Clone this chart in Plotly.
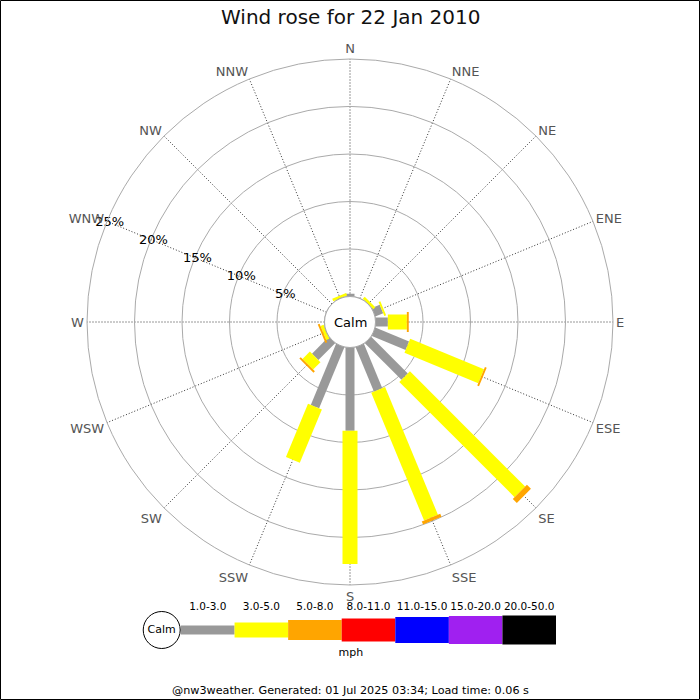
import numpy as np
import plotly.graph_objects as go

# ---------------- data ----------------
directions = ["N", "NNE", "NE", "ENE", "E", "ESE", "SE", "SSE",
              "S", "SSW", "SW", "WSW", "W", "WNW", "NW", "NNW"]
bearings = [i * 22.5 for i in range(16)]

speed_bins = ["1.0-3.0", "3.0-5.0", "5.0-8.0", "8.0-11.0",
              "11.0-15.0", "15.0-20.0", "20.0-50.0"]
bin_colors = ["#999999", "#ffff00", "#ffa500", "#ff0000",
              "#0000ff", "#a020f0", "#000000"]
bin_widths = [9, 15, 20, 23, 26, 28, 29]

# percentage of time per direction for each speed bin
pct_1_3 = [0.3, 0, 0, 0.9, 1.3, 3.85, 5.45, 5.06, 8.76, 6.96, 2.5, 0, 0, 0, 0, 0]
pct_3_5 = [0, 0, 0.3, 0.2, 2.0, 8.4, 17.15, 14.54, 14.04, 6.07, 1.1, 0.35, 0, 0, 0, 0.3]
pct_5_8 = [0, 0, 0, 0, 0.2, 0.2, 0.6, 0.35, 0, 0, 0.2, 0.2, 0, 0, 0, 0]
pct_8_11 = [0] * 16
pct_11_15 = [0] * 16
pct_15_20 = [0] * 16
pct_20_50 = [0] * 16
series = [pct_1_3, pct_3_5, pct_5_8, pct_8_11, pct_11_15, pct_15_20, pct_20_50]

radial_ticks = [5, 10, 15, 20, 25]
radial_ticktext = ["5%", "10%", "15%", "20%", "25%"]
radial_label_bearing = 292.5

title_text = "Wind rose for 22 Jan 2010"
footer_text = "@nw3weather. Generated: 01 Jul 2025 03:34; Load time: 0.06 s"
FONT = "DejaVu Sans"

# ---------------- figure ----------------
fig = go.Figure()

stack = np.vstack([np.array(s, dtype=float) for s in series])
tops = np.cumsum(stack, axis=0)
bottoms = tops - stack

for k in range(len(series)):
    rr, tt = [], []
    for d in range(16):
        if stack[k, d] > 0:
            rr += [bottoms[k, d], tops[k, d], None]
            tt += [bearings[d], bearings[d], None]
    if rr:
        fig.add_trace(go.Scatterpolar(
            r=rr, theta=tt, mode="lines", connectgaps=False,
            line=dict(color=bin_colors[k], width=bin_widths[k]),
            hoverinfo="skip", showlegend=False))

# calm circle outline (hole edge)
circ_theta = np.linspace(0, 360, 181)
fig.add_trace(go.Scatterpolar(
    r=np.zeros_like(circ_theta), theta=circ_theta, mode="lines",
    line=dict(color="#999999", width=1), hoverinfo="skip", showlegend=False))

# radial percentage labels, sitting on the WNW spoke
fig.add_trace(go.Scatterpolar(
    r=[t - 0.3 for t in radial_ticks], theta=[radial_label_bearing] * len(radial_ticks),
    mode="text", text=radial_ticktext, textposition="middle center",
    textfont=dict(family=FONT, size=13, color="#000"),
    hoverinfo="skip", showlegend=False, cliponaxis=False))

# ---------------- legend (own cartesian axes) ----------------
for k in range(len(speed_bins)):
    fig.add_trace(go.Scatter(
        x=[k, k + 1], y=[0, 0], mode="lines",
        line=dict(color=bin_colors[k], width=bin_widths[k]),
        xaxis="x", yaxis="y", hoverinfo="skip", showlegend=False))
fig.add_trace(go.Scatter(
    x=[k + 0.5 for k in range(len(speed_bins))], y=[0.77] * len(speed_bins),
    mode="text", text=speed_bins, textposition="middle center",
    textfont=dict(family=FONT, size=10.5, color="#000"),
    hoverinfo="skip", showlegend=False))
fig.add_trace(go.Scatter(
    x=[-0.36], y=[0], mode="markers+text", text=["Calm"],
    textposition="middle center",
    marker=dict(symbol="circle", size=37, color="white",
                line=dict(color="#000", width=1)),
    textfont=dict(family=FONT, size=11, color="#000"),
    hoverinfo="skip", showlegend=False))
fig.add_trace(go.Scatter(
    x=[3.17], y=[-0.77], mode="text", text=["mph"],
    textposition="middle center",
    textfont=dict(family=FONT, size=11, color="#000"),
    hoverinfo="skip", showlegend=False))

cx, cy, R = 350, 322, 263
fig.update_layout(
    width=700, height=700,
    margin=dict(l=0, r=0, t=0, b=0),
    paper_bgcolor="white", plot_bgcolor="white",
    font=dict(family=FONT),
    polar=dict(
        domain=dict(x=[(cx - R) / 700, (cx + R) / 700],
                    y=[(700 - cy - R) / 700, (700 - cy + R) / 700]),
        hole=25.5 / 263,
        bgcolor="white",
        angularaxis=dict(
            direction="clockwise", rotation=90,
            tickmode="array", tickvals=bearings, ticktext=directions,
            tickfont=dict(family=FONT, size=13, color="#555"),
            ticks="", showline=True, linecolor="#aaaaaa", linewidth=1,
            showgrid=True, gridcolor="#333333", gridwidth=1, griddash="1px,2px"),
        radialaxis=dict(
            range=[0, 25], angle=157.5,
            tickmode="array", tickvals=radial_ticks,
            showticklabels=False, ticks="", showline=False,
            showgrid=True, gridcolor="#aaaaaa", gridwidth=1),
    ),
    xaxis=dict(domain=[140 / 700, 560 / 700],
               range=[(140 - 181) / 53.57, 7 + (560 - 556) / 53.57],
               visible=False, fixedrange=True),
    yaxis=dict(domain=[40 / 700, 100 / 700], range=[-1, 1],
               visible=False, fixedrange=True),
    annotations=[
        dict(text=title_text, x=0.5, y=1 - 17 / 700, xref="paper", yref="paper",
             showarrow=False, xanchor="center", yanchor="middle",
             font=dict(family=FONT, size=20, color="#111")),
        dict(text="Calm", x=cx / 700, y=1 - cy / 700, xref="paper", yref="paper",
             showarrow=False, xanchor="center", yanchor="middle",
             font=dict(family=FONT, size=13, color="#000")),
        dict(text=footer_text, x=0.5, y=1 - 690 / 700, xref="paper", yref="paper",
             showarrow=False, xanchor="center", yanchor="middle",
             font=dict(family=FONT, size=11.2, color="#000")),
    ],
    shapes=[dict(type="rect", xref="paper", yref="paper",
                 x0=0.5 / 700, y0=0.5 / 700, x1=699.5 / 700, y1=699.5 / 700,
                 line=dict(color="#000", width=1))],
)

fig.write_html("out.html",
               config={"displayModeBar": False},
               post_script="document.body.style.margin='0';"
                           "document.body.style.overflow='hidden';")
